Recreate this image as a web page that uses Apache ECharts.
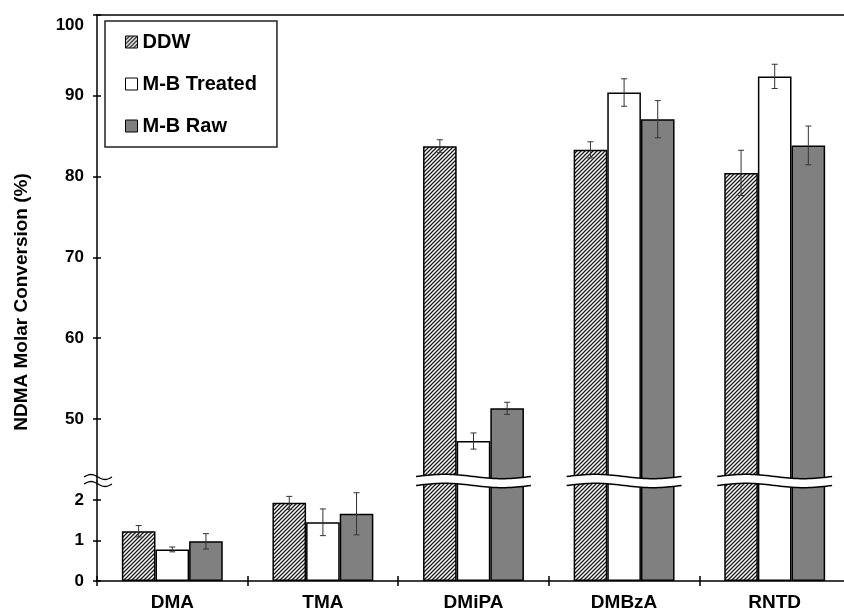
<!DOCTYPE html>
<html><head><meta charset="utf-8">
<script src="https://cdn.jsdelivr.net/npm/echarts@6/dist/echarts.min.js"></script>
<style>html,body{margin:0;padding:0;background:#fff}#c{width:844px;height:613px}</style>
</head><body><div id="c"></div>
<script>
// ---- data ----
const categories = ['DMA', 'TMA', 'DMiPA', 'DMBzA', 'RNTD'];
const seriesNames = ['DDW', 'M-B Treated', 'M-B Raw'];
const ddw = [1.23, 1.93, 83.75, 83.3, 80.45];
const ddwErr = [0.14, 0.16, 0.8, 1.0, 2.8];
const treated = [0.78, 1.45, 47.25, 90.4, 92.4];
const treatedErr = [0.06, 0.33, 1.0, 1.7, 1.5];
const raw = [0.98, 1.66, 51.3, 87.1, 83.85];
const rawErr = [0.19, 0.52, 0.75, 2.3, 2.4];
const lowerTicks = [0, 1, 2];
const upperTicks = [50, 60, 70, 80, 90, 100];
const yTitle = 'NDMA Molar Conversion (%)';
const LOWER_MAX = 2.47, UPPER_MIN = 42.3, UPPER_MAX = 100;

// ---- style ----
const FONT = '"Liberation Sans", Arial, sans-serif';
const CAT_GAP = 0.33;

function hatchCanvas() {
  const s = 4;
  const c = document.createElement('canvas'); c.width = s; c.height = s;
  const g = c.getContext('2d');
  g.fillStyle = '#fff'; g.fillRect(0, 0, s, s);
  g.strokeStyle = '#1a1a1a'; g.lineWidth = 1.3;
  g.beginPath();
  g.moveTo(-1, s + 1); g.lineTo(s + 1, -1);
  g.moveTo(-1, 1); g.lineTo(1, -1);
  g.moveTo(s - 1, s + 1); g.lineTo(s + 1, s - 1);
  g.stroke();
  return c;
}

const groups = [
  { name: seriesNames[0], vals: ddw, errs: ddwErr, color: { image: hatchCanvas(), repeat: 'repeat' } },
  { name: seriesNames[1], vals: treated, errs: treatedErr, color: '#ffffff' },
  { name: seriesNames[2], vals: raw, errs: rawErr, color: '#808080' }
];

const chart = echarts.init(document.getElementById('c'), null, { renderer: 'canvas' });

const labelStyle = { fontFamily: FONT, fontWeight: 'bold', fontSize: 17, color: '#000' };
const axisLine = { show: true, lineStyle: { color: '#000', width: 1.5 } };

function errRender(gi, nG) {
  return function (params, api) {
    const i = api.value(0), v = api.value(1), e = api.value(2);
    const catW = api.size([1, 0])[0];
    const barW = catW * (1 - CAT_GAP) / nG;
    const off = (gi - (nG - 1) / 2) * barW;
    const top = api.coord([i, v + e]), bot = api.coord([i, v - e]);
    const x = top[0] + off, cap = 3;
    const st = { stroke: '#333', lineWidth: 1 };
    return { type: 'group', children: [
      { type: 'line', shape: { x1: x, y1: top[1], x2: x, y2: bot[1] }, style: st },
      { type: 'line', shape: { x1: x - cap, y1: top[1], x2: x + cap, y2: top[1] }, style: st },
      { type: 'line', shape: { x1: x - cap, y1: bot[1], x2: x + cap, y2: bot[1] }, style: st }
    ] };
  };
}

const series = [];
groups.forEach(function (g, gi) {
  series.push({
    name: g.name, type: 'bar', xAxisIndex: 1, yAxisIndex: 2, clip: true,
    barGap: '0%', barCategoryGap: (CAT_GAP * 100) + '%',
    itemStyle: { color: g.color, borderColor: '#000', borderWidth: 1.5 },
    data: g.vals.slice()
  });
  series.push({
    name: g.name, type: 'bar', xAxisIndex: 0, yAxisIndex: 0, clip: true,
    barGap: '0%', barCategoryGap: (CAT_GAP * 100) + '%',
    itemStyle: { color: g.color, borderColor: '#000', borderWidth: 1.5 },
    data: g.vals.map(function (v) { return v > UPPER_MIN ? v : '-'; })
  });
  const lowErr = [], upErr = [];
  g.vals.forEach(function (v, i) {
    if (v <= LOWER_MAX) lowErr.push([i, v, g.errs[i]]); else upErr.push([i, v, g.errs[i]]);
  });
  series.push({ name: g.name, type: 'custom', xAxisIndex: 1, yAxisIndex: 2, z: 5,
    renderItem: errRender(gi, groups.length), encode: { x: 0, y: 1 }, data: lowErr, silent: true });
  series.push({ name: g.name, type: 'custom', xAxisIndex: 0, yAxisIndex: 0, z: 5,
    renderItem: errRender(gi, groups.length), encode: { x: 0, y: 1 }, data: upErr, silent: true });
});

function wavePoints(x0, x1, yc, amp, n) {
  const pts = [];
  for (let k = 0; k <= n; k++) {
    const t = k / n;
    pts.push([x0 + (x1 - x0) * t, yc - amp * Math.sin(2 * Math.PI * t)]);
  }
  return pts;
}

const brokenCats = [];
categories.forEach(function (c, i) {
  if (Math.max(ddw[i], treated[i], raw[i]) > LOWER_MAX) brokenCats.push([i, LOWER_MAX]);
});
series.push({
  type: 'custom', xAxisIndex: 1, yAxisIndex: 2, z: 10, silent: true, clip: false,
  encode: { x: 0, y: 1 }, data: brokenCats,
  renderItem: function (params, api) {
    const i = api.value(0);
    const c = api.coord([i, api.value(1)]);
    const catW = api.size([1, 0])[0];
    const half = catW * (1 - CAT_GAP) / 2 + 7;
    const top = wavePoints(c[0] - half, c[0] + half, c[1] - 4.5, 2.2, 40);
    const bot = wavePoints(c[0] - half, c[0] + half, c[1] + 4.5, 2.2, 40);
    const poly = top.concat(bot.slice().reverse());
    return { type: 'group', children: [
      { type: 'polygon', shape: { points: poly }, style: { fill: '#fff', stroke: null } },
      { type: 'polyline', shape: { points: top }, style: { stroke: '#000', lineWidth: 1.5, fill: null } },
      { type: 'polyline', shape: { points: bot }, style: { stroke: '#000', lineWidth: 1.5, fill: null } }
    ] };
  }
});
series.push({
  type: 'custom', xAxisIndex: 1, yAxisIndex: 2, z: 10, silent: true, clip: false,
  encode: { x: 0, y: 1 }, data: [[0, LOWER_MAX]],
  renderItem: function (params, api) {
    const y = api.coord([0, api.value(1)])[1];
    const x = params.coordSys.x;
    const a = wavePoints(x - 13, x + 15, y - 4, 2.5, 24);
    const b = wavePoints(x - 13, x + 15, y + 3, 2.5, 24);
    return { type: 'group', children: [
      { type: 'polyline', shape: { points: a }, style: { stroke: '#000', lineWidth: 1.3, fill: null } },
      { type: 'polyline', shape: { points: b }, style: { stroke: '#000', lineWidth: 1.3, fill: null } }
    ] };
  }
});

const catLabel = Object.assign({}, labelStyle, { fontSize: 19, margin: 12 });

const option = {
  animation: false,
  backgroundColor: '#fff',
  grid: [
    { left: 97, width: 753, top: 15, height: 466, outerBoundsMode: 'none', containLabel: false },
    { left: 97, width: 753, top: 481, height: 100, outerBoundsMode: 'none', containLabel: false }
  ],
  xAxis: [
    { type: 'category', gridIndex: 0, data: categories, position: 'top',
      axisLine: axisLine, axisTick: { show: false }, axisLabel: { show: false }, splitLine: { show: false } },
    { type: 'category', gridIndex: 1, data: categories, position: 'bottom',
      axisLine: axisLine,
      axisTick: { show: true, length: 5, lineStyle: { color: '#000', width: 1.5 } },
      axisLabel: catLabel },
    { type: 'category', gridIndex: 1, data: categories, position: 'bottom',
      axisLine: { show: false }, axisLabel: { show: false },
      axisTick: { show: true, inside: true, length: 5, lineStyle: { color: '#000', width: 1.5 } } }
  ],
  yAxis: [
    { type: 'value', gridIndex: 0, position: 'left', min: UPPER_MIN, max: UPPER_MAX,
      axisLine: axisLine, splitLine: { show: false },
      axisTick: { show: true, length: 4, customValues: upperTicks, lineStyle: { color: '#000', width: 1.5 } },
      axisLabel: Object.assign({ margin: 13, customValues: upperTicks,
        formatter: function (v) { return v === UPPER_MAX ? '{t|' + v + '}' : String(v); },
        rich: { t: Object.assign({ padding: [20, 0, 0, 0] }, labelStyle) } }, labelStyle) },
    { type: 'value', gridIndex: 0, position: 'left', min: UPPER_MIN, max: UPPER_MAX,
      axisLine: { show: false }, splitLine: { show: false }, axisLabel: { show: false },
      axisTick: { show: true, inside: true, length: 4, customValues: upperTicks, lineStyle: { color: '#000', width: 1.5 } } },
    { type: 'value', gridIndex: 1, position: 'left', min: 0, max: LOWER_MAX,
      axisLine: axisLine, splitLine: { show: false },
      axisTick: { show: true, length: 4, customValues: lowerTicks, lineStyle: { color: '#000', width: 1.5 } },
      axisLabel: Object.assign({ margin: 13, customValues: lowerTicks }, labelStyle) },
    { type: 'value', gridIndex: 1, position: 'left', min: 0, max: LOWER_MAX,
      axisLine: { show: false }, splitLine: { show: false }, axisLabel: { show: false },
      axisTick: { show: true, inside: true, length: 4, customValues: lowerTicks, lineStyle: { color: '#000', width: 1.5 } } }
  ],
  legend: {
    orient: 'vertical', left: 105, top: 21, padding: [11, 20, 11, 20], itemGap: 22,
    itemWidth: 12, itemHeight: 12, icon: 'rect', borderColor: '#222', borderWidth: 1.5, backgroundColor: '#fff',
    data: seriesNames,
    itemStyle: { borderColor: '#000', borderWidth: 1 },
    textStyle: { fontFamily: FONT, fontWeight: 'bold', fontSize: 20, color: '#000' }
  },
  graphic: [
    { type: 'text', x: 22, y: 302, rotation: Math.PI / 2,
      style: { text: yTitle, font: 'bold 19px ' + FONT, fill: '#000', align: 'center', verticalAlign: 'middle' } }
  ],
  series: series
};
chart.setOption(option);
</script>
</body></html>
